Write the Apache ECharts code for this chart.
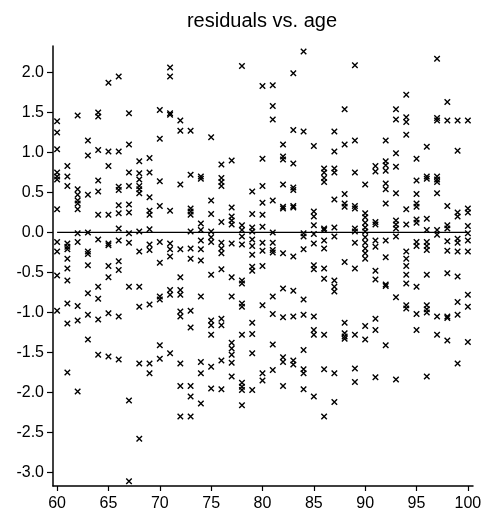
<!DOCTYPE html>
<html>
<head>
<meta charset="utf-8">
<script src="https://cdn.jsdelivr.net/npm/echarts@6/dist/echarts.min.js"></script>
<style>html,body{margin:0;padding:0;background:#fff}#c{width:488px;height:517px}</style>
</head>
<body>
<div id="c"></div>
<script>
const titleText = 'residuals vs. age';
const ages = [60,61,62,63,64,65,66,67,68,69,70,71,72,73,74,75,76,77,78,79,80,81,82,83,84,85,86,87,88,89,90,91,92,93,94,95,96,97,98,99,100];
const residualsByAge = [
  [1.39, 1.25, 1.04, 0.75, 0.70, 0.66, 0.29, -0.12, -0.24, -0.54, -0.98],
  [0.83, 0.70, 0.58, -0.14, -0.18, -0.21, -0.33, -0.45, -0.60, -0.89, -1.14, -1.75],
  [1.46, 0.54, 0.47, 0.40, 0.36, 0.29, -0.01, -0.12, -0.92, -1.10, -1.99],
  [1.15, 0.96, 0.47, 0.00, -0.24, -0.27, -0.41, -0.76, -1.03, -1.34],
  [1.50, 1.45, 1.03, 0.65, 0.51, 0.22, -0.09, -0.68, -0.83, -1.09, -1.53],
  [1.87, 1.01, 0.83, 0.22, -0.14, -0.16, -0.42, -0.56, -1.01, -1.55],
  [1.95, 1.01, 0.57, 0.53, 0.34, 0.24, 0.05, -0.10, -0.36, -0.47, -1.05, -1.59],
  [1.49, 1.10, 0.75, 0.58, 0.35, 0.25, -0.01, -0.13, -0.68, -2.10, -3.11],
  [0.89, 0.74, 0.66, 0.58, 0.54, 0.49, 0.01, -0.24, -0.68, -0.93, -1.64, -2.58],
  [0.93, 0.75, 0.44, 0.27, 0.22, 0.04, -0.15, -0.22, -0.90, -1.64, -1.76],
  [1.53, 1.17, 0.64, 0.33, -0.12, -0.38, -0.80, -0.84, -1.41, -1.58],
  [2.06, 1.95, 1.49, 1.47, 0.27, -0.14, -0.21, -0.30, -0.72, -0.78, -1.51],
  [1.40, 1.27, 0.60, -0.21, -0.56, -0.72, -0.78, -0.99, -1.05, -1.64, -1.92, -2.30],
  [1.27, 0.72, 0.30, 0.26, 0.22, 0.01, -0.20, -0.33, -0.98, -1.19, -1.92, -2.05, -2.30],
  [0.70, 0.67, 0.11, 0.03, -0.10, -0.21, -0.35, -0.80, -1.62, -1.76, -2.14],
  [1.19, 0.40, 0.23, 0.01, -0.06, -0.12, -0.53, -1.10, -1.16, -1.28, -1.68, -1.95],
  [0.85, 0.68, 0.63, 0.58, 0.13, -0.13, -0.20, -0.26, -0.46, -1.08, -1.16, -1.60, -1.96],
  [0.90, 0.31, 0.20, 0.15, 0.10, -0.14, -0.56, -0.80, -1.38, -1.45, -1.53, -1.63, -1.80],
  [2.08, 0.09, 0.03, -0.05, -0.15, -0.60, -0.64, -0.89, -0.93, -1.28, -1.88, -1.93, -1.97, -2.16],
  [0.51, 0.23, 0.06, 0.01, -0.09, -0.17, -0.28, -0.43, -0.48, -1.13, -1.27, -1.51, -1.97],
  [1.83, 0.92, 0.58, 0.37, 0.22, 0.07, -0.13, -0.23, -0.42, -0.91, -1.76, -1.85],
  [1.84, 1.58, 1.41, 0.40, 0.00, -0.13, -0.22, -0.25, -0.80, -1.02, -1.40, -1.72],
  [1.10, 0.95, 0.91, 0.60, 0.32, 0.30, -0.26, -0.70, -1.06, -1.56, -1.62, -1.92],
  [1.99, 1.28, 0.86, 0.56, 0.53, 0.33, 0.31, -0.30, -0.73, -1.05, -1.60, -1.65],
  [2.26, 1.26, -0.01, -0.05, -0.21, -0.84, -1.03, -1.47, -1.71, -1.76, -1.96],
  [1.08, 0.26, 0.20, 0.09, -0.02, -0.14, -0.41, -0.46, -1.05, -1.22, -1.28, -2.05],
  [0.80, 0.75, 0.68, 0.63, 0.05, 0.03, -0.10, -0.20, -0.45, -0.58, -1.28, -1.71, -2.30],
  [1.26, 1.01, 0.80, 0.75, 0.41, 0.06, -0.05, -0.60, -0.68, -0.74, -1.76, -2.12],
  [1.54, 1.10, 0.48, 0.36, 0.32, -0.37, -1.13, -1.26, -1.30, -1.33],
  [2.09, 1.15, 0.75, 0.33, 0.30, 0.05, 0.01, -0.13, -0.45, -1.28, -1.70, -1.87],
  [0.60, 0.24, 0.19, 0.12, 0.06, 0.01, -0.06, -0.13, -0.20, -0.26, -0.33, -1.17, -1.34],
  [0.83, 0.76, 0.13, 0.10, -0.10, -0.18, -0.48, -0.59, -1.08, -1.22, -1.81],
  [1.15, 0.89, 0.84, 0.77, 0.61, 0.54, 0.36, -0.10, -0.31, -0.65, -0.67, -1.41],
  [1.54, 1.41, 0.99, 0.82, 0.49, 0.15, 0.10, 0.05, -0.05, -0.81, -1.84],
  [1.72, 1.44, 1.38, 1.22, 0.29, 0.10, -0.24, -0.33, -0.42, -0.53, -0.64, -0.91, -0.95],
  [0.92, 0.65, 0.48, 0.36, 0.32, 0.16, 0.12, -0.12, -0.17, -0.68, -1.02, -1.22],
  [1.07, 0.70, 0.67, 0.17, 0.03, -0.12, -0.17, -0.22, -0.53, -0.91, -0.96, -1.00, -1.80],
  [2.17, 1.43, 1.40, 0.70, 0.66, 0.63, 0.49, 0.03, -0.03, -1.05, -1.28],
  [1.63, 1.40, 0.33, 0.09, 0.05, -0.11, -0.23, -0.51, -1.05, -1.07, -1.35],
  [1.40, 1.02, 0.25, 0.20, -0.08, -0.13, -0.24, -0.55, -0.87, -1.03, -1.64],
  [1.40, 0.30, 0.25, 0.08, -0.01, -0.10, -0.24, -0.78, -0.93, -1.37]
];
const xTicks = [60, 65, 70, 75, 80, 85, 90, 95, 100];
const yTicks = [-3.0, -2.5, -2.0, -1.5, -1.0, -0.5, 0.0, 0.5, 1.0, 1.5, 2.0];
const zeroLineX = [60, 100];

const points = [];
ages.forEach((a, i) => residualsByAge[i].forEach(r => points.push([a, r])));

const font = '"Liberation Sans", Arial, Helvetica, sans-serif';
const chart = echarts.init(document.getElementById('c'), null, {renderer: 'canvas'});
chart.setOption({
  animation: false,
  backgroundColor: '#fff',
  graphic: [{
    type: 'text', x: 262, y: 21,
    style: {text: titleText, fontSize: 20, fontFamily: font, fill: '#000', align: 'center', verticalAlign: 'middle'}
  }],
  grid: {left: 53, top: 46, width: 420, height: 440, containLabel: false},
  xAxis: {
    type: 'value', min: 59.6, max: 100.5,
    axisLine: {show: true, onZero: false, lineStyle: {color: '#000', width: 1.5}},
    axisTick: {show: true, inside: false, length: 5, customValues: xTicks, lineStyle: {color: '#000', width: 1.2}},
    axisLabel: {customValues: xTicks, color: '#000', fontSize: 16, fontFamily: font, margin: 10},
    splitLine: {show: false}
  },
  yAxis: {
    type: 'value', min: -3.17, max: 2.33,
    axisLine: {show: true, onZero: false, lineStyle: {color: '#000', width: 1.5}},
    axisTick: {show: true, inside: false, length: 6, customValues: yTicks, lineStyle: {color: '#000', width: 1.2}},
    axisLabel: {customValues: yTicks, color: '#000', fontSize: 16, fontFamily: font, margin: 9,
      formatter: v => Number(v).toFixed(1)},
    splitLine: {show: false}
  },
  series: [
    {
      type: 'line', data: zeroLineX.map(x => [x, 0]), symbol: 'none', silent: true,
      lineStyle: {color: '#000', width: 1.2}, z: 1
    },
    {
      type: 'scatter', data: points,
      symbol: 'path://M0 0L10 10M10 0L0 10', symbolSize: 5.5,
      itemStyle: {color: 'transparent', borderColor: '#000', borderWidth: 1.4, opacity: 1},
      z: 2
    }
  ]
});
</script>
</body>
</html>
